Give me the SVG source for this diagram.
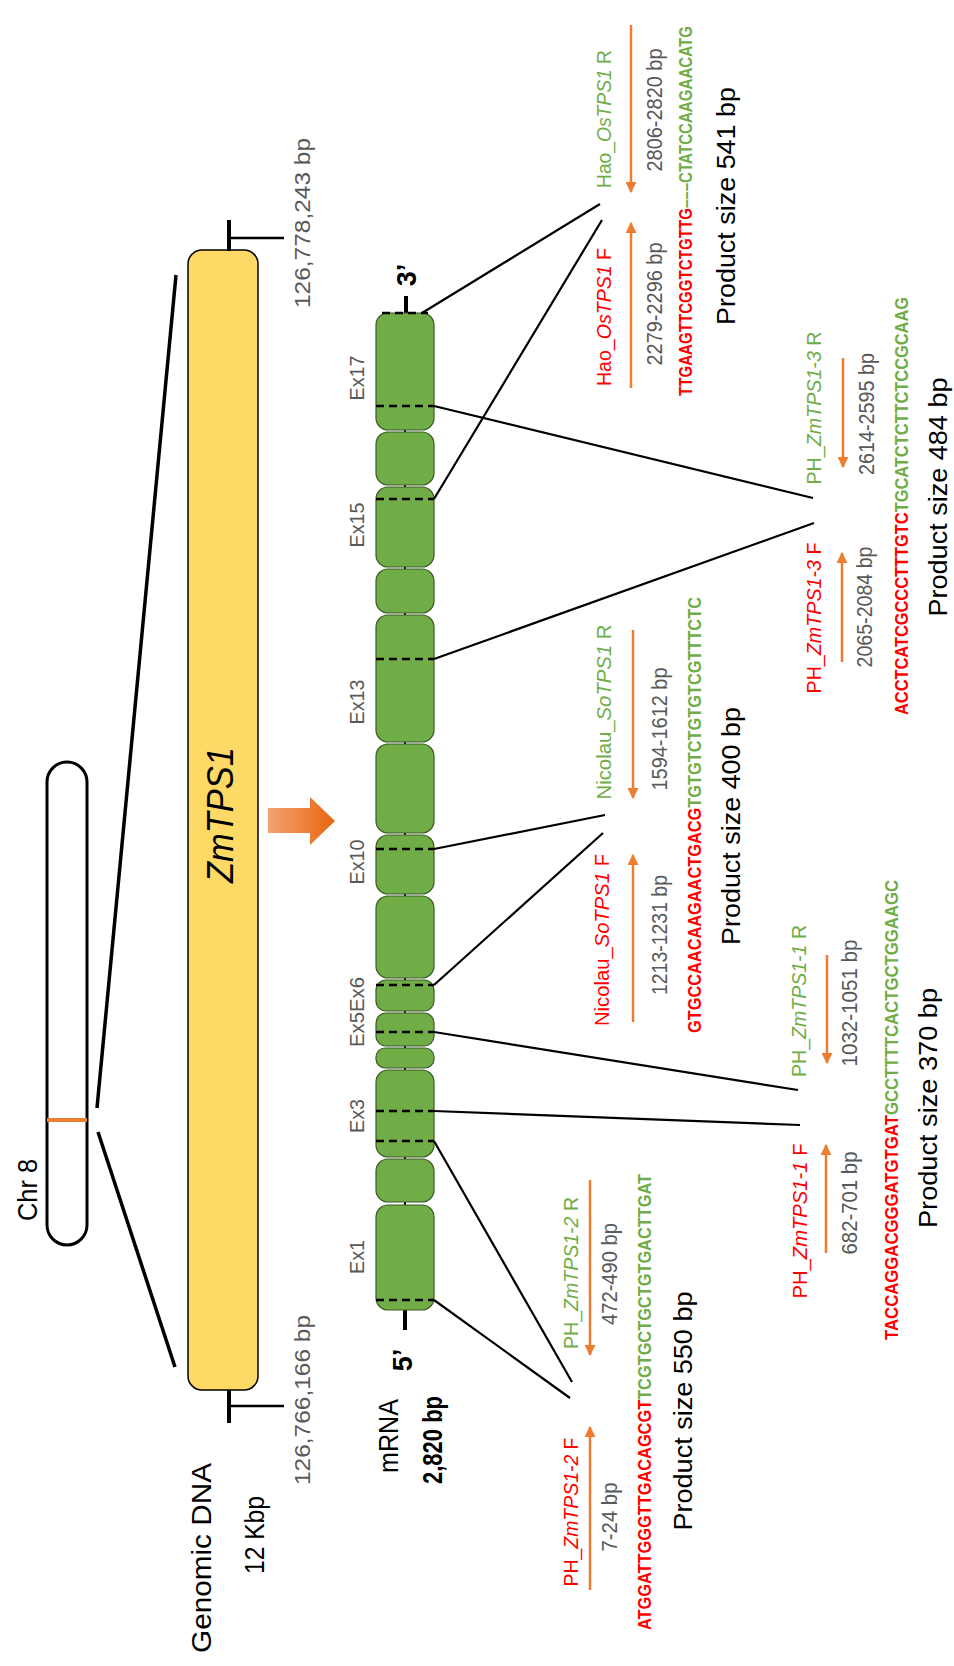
<svg xmlns="http://www.w3.org/2000/svg" width="954" height="1666" viewBox="0 0 954 1666">
<style>
text{font-family:"Liberation Sans",Arial,sans-serif}
.big{font-size:27px;fill:#000}
.gray{font-size:22px;fill:#595959}
.exl{font-size:20px;fill:#595959}
.lab{font-size:20px}
.red{fill:#FF0000}
.grn{fill:#70AD47}
.seq{font-size:18.5px;font-weight:bold}
.prod{font-size:26px;fill:#000}
.it{font-style:italic}
.exon{fill:#70AD47;stroke:#3A5A26;stroke-width:1.2}
.dash{stroke:#000;stroke-width:2.5;stroke-dasharray:8 5}
.con{stroke:#000;stroke-width:2.2;fill:none}
.oar{stroke:#ED7D31;stroke-width:2.5;marker-end:url(#ah)}
</style>
<defs>
<marker id="ah" viewBox="0 0 10 10" refX="9" refY="5" markerWidth="4.4" markerHeight="4.4" markerUnits="strokeWidth" orient="auto"><path d="M0,0L10,5L0,10z" fill="#ED7D31"/></marker>
<linearGradient id="og" x1="0" y1="0" x2="1" y2="0"><stop offset="0" stop-color="#F4A370"/><stop offset="1" stop-color="#E8650F"/></linearGradient>
</defs>
<rect width="954" height="1666" fill="#fff"/>

<g id="chromosome">
<rect x="47" y="762" width="40" height="483" rx="20" fill="none" stroke="#000" stroke-width="3"/>
<line x1="47" y1="1120" x2="87" y2="1120" stroke="#ED7D31" stroke-width="4"/>
<text class="big" font-size="33" text-anchor="middle" transform="translate(37,1190) rotate(-90)" textLength="62" lengthAdjust="spacingAndGlyphs">Chr 8</text>
</g>

<g id="zoom-lines">
<line x1="176" y1="275" x2="97" y2="1108" stroke="#000" stroke-width="3.5"/>
<line x1="98" y1="1132" x2="175" y2="1367" stroke="#000" stroke-width="3.5"/>
</g>

<g id="genomic-dna">
<rect x="188" y="250" width="70" height="1140" rx="14" fill="#FFD966" stroke="#000" stroke-width="1.5"/>
<text class="it" font-size="36" text-anchor="middle" transform="translate(233,815) rotate(-90)" textLength="136" lengthAdjust="spacingAndGlyphs">ZmTPS1</text>
<line x1="229" y1="220" x2="229" y2="251" stroke="#000" stroke-width="4"/>
<line x1="229" y1="238" x2="284" y2="238" stroke="#000" stroke-width="2.5"/>
<line x1="229" y1="1390" x2="229" y2="1423" stroke="#000" stroke-width="4"/>
<line x1="229" y1="1406" x2="284" y2="1406" stroke="#000" stroke-width="2.5"/>
<text class="gray" text-anchor="middle" transform="translate(310,223) rotate(-90)" textLength="170" lengthAdjust="spacingAndGlyphs">126,778,243 bp</text>
<text class="gray" text-anchor="middle" transform="translate(310,1400) rotate(-90)" textLength="170" lengthAdjust="spacingAndGlyphs">126,766,166 bp</text>
<text class="big" font-size="30" text-anchor="middle" transform="translate(211,1558) rotate(-90)" textLength="190" lengthAdjust="spacingAndGlyphs">Genomic DNA</text>
<text class="big" font-size="25" text-anchor="middle" transform="translate(264,1535) rotate(-90)" textLength="78" lengthAdjust="spacingAndGlyphs">12 Kbp</text>
</g>

<g id="transcription-arrow">
<polygon points="268,808 310,808 310,797 335,821 310,845 310,833 268,833" fill="url(#og)"/>
</g>

<g id="mrna">
<line x1="405" y1="296" x2="405" y2="1330" stroke="#000" stroke-width="2"/>
<line x1="406" y1="296" x2="406" y2="313" stroke="#000" stroke-width="4"/>
<line x1="405" y1="1310" x2="405" y2="1330" stroke="#000" stroke-width="4"/>
<rect class="exon" x="376" y="313" width="58" height="117" rx="12"/>
<rect class="exon" x="376" y="432" width="58" height="53" rx="12"/>
<rect class="exon" x="376" y="487" width="58" height="80" rx="12"/>
<rect class="exon" x="376" y="569" width="58" height="44" rx="12"/>
<rect class="exon" x="376" y="615" width="58" height="127" rx="12"/>
<rect class="exon" x="376" y="744" width="58" height="89" rx="12"/>
<rect class="exon" x="376" y="835" width="58" height="59" rx="12"/>
<rect class="exon" x="376" y="896" width="58" height="82" rx="12"/>
<rect class="exon" x="376" y="980" width="58" height="31" rx="10"/>
<rect class="exon" x="376" y="1013" width="58" height="33" rx="10"/>
<rect class="exon" x="376" y="1048" width="58" height="20" rx="9"/>
<rect class="exon" x="376" y="1070" width="58" height="87" rx="12"/>
<rect class="exon" x="376" y="1159" width="58" height="43" rx="12"/>
<rect class="exon" x="376" y="1205" width="58" height="105" rx="12"/>
<line class="dash" x1="382" y1="313" x2="428" y2="313"/>
<line class="dash" x1="376" y1="406" x2="434" y2="406"/>
<line class="dash" x1="376" y1="499" x2="434" y2="499"/>
<line class="dash" x1="376" y1="659" x2="434" y2="659"/>
<line class="dash" x1="376" y1="849" x2="434" y2="849"/>
<line class="dash" x1="376" y1="985" x2="434" y2="985"/>
<line class="dash" x1="376" y1="1032" x2="434" y2="1032"/>
<line class="dash" x1="376" y1="1111" x2="434" y2="1111"/>
<line class="dash" x1="376" y1="1141" x2="434" y2="1141"/>
<line class="dash" x1="376" y1="1300" x2="434" y2="1300"/>
<text class="exl" text-anchor="middle" transform="translate(364,378) rotate(-90)" textLength="45" lengthAdjust="spacingAndGlyphs">Ex17</text>
<text class="exl" text-anchor="middle" transform="translate(364,525) rotate(-90)" textLength="45" lengthAdjust="spacingAndGlyphs">Ex15</text>
<text class="exl" text-anchor="middle" transform="translate(364,702) rotate(-90)" textLength="45" lengthAdjust="spacingAndGlyphs">Ex13</text>
<text class="exl" text-anchor="middle" transform="translate(364,862) rotate(-90)" textLength="45" lengthAdjust="spacingAndGlyphs">Ex10</text>
<text class="exl" text-anchor="middle" transform="translate(364,1012) rotate(-90)" textLength="70" lengthAdjust="spacingAndGlyphs">Ex5Ex6</text>
<text class="exl" text-anchor="middle" transform="translate(364,1116) rotate(-90)" textLength="34" lengthAdjust="spacingAndGlyphs">Ex3</text>
<text class="exl" text-anchor="middle" transform="translate(364,1257) rotate(-90)" textLength="34" lengthAdjust="spacingAndGlyphs">Ex1</text>
<text class="big" font-weight="bold" font-size="24" text-anchor="middle" transform="translate(416,275) rotate(-90)">3’</text>
<text class="big" font-weight="bold" font-size="24" text-anchor="middle" transform="translate(412,1360) rotate(-90)">5’</text>
<text class="big" font-size="29" text-anchor="middle" transform="translate(398,1436) rotate(-90)" textLength="74" lengthAdjust="spacingAndGlyphs">mRNA</text>
<text class="big" font-size="24" font-weight="bold" text-anchor="middle" transform="translate(442,1440) rotate(-90)" textLength="88" lengthAdjust="spacingAndGlyphs">2,820 bp</text>
</g>

<g id="connectors">
<line class="con" x1="422" y1="313" x2="600" y2="204"/>
<line class="con" x1="434" y1="499" x2="602" y2="220"/>
<line class="con" x1="434" y1="406" x2="813" y2="498"/>
<line class="con" x1="434" y1="659" x2="814" y2="523"/>
<line class="con" x1="434" y1="849" x2="605" y2="815"/>
<line class="con" x1="434" y1="985" x2="603" y2="833"/>
<line class="con" x1="434" y1="1032" x2="798" y2="1090"/>
<line class="con" x1="434" y1="1111" x2="800" y2="1125"/>
<line class="con" x1="434" y1="1141" x2="572" y2="1382"/>
<line class="con" x1="434" y1="1300" x2="570" y2="1398"/>
</g>

<g id="primer-hao">
<text class="lab grn" text-anchor="middle" transform="translate(611,119) rotate(-90)" textLength="138" lengthAdjust="spacingAndGlyphs">Hao_<tspan class="it">OsTPS1</tspan> R</text>
<line class="oar" x1="631" y1="25" x2="631" y2="192"/>
<text class="gray" text-anchor="middle" transform="translate(662,110) rotate(-90)" textLength="123" lengthAdjust="spacingAndGlyphs">2806-2820 bp</text>
<text class="lab red" text-anchor="middle" transform="translate(611,317) rotate(-90)" textLength="138" lengthAdjust="spacingAndGlyphs">Hao_<tspan class="it">OsTPS1</tspan> F</text>
<line class="oar" x1="631" y1="388" x2="631" y2="223"/>
<text class="gray" text-anchor="middle" transform="translate(662,304) rotate(-90)" textLength="123" lengthAdjust="spacingAndGlyphs">2279-2296 bp</text>
<text class="seq" font-size="15" transform="translate(692,396) rotate(-90)" textLength="370" lengthAdjust="spacingAndGlyphs"><tspan class="red">TTGAAGTTCGGTCTGTTG</tspan><tspan class="grn">–––CTATCCAAGAACATG</tspan></text>
<text class="prod" text-anchor="middle" transform="translate(735,206) rotate(-90)" textLength="238" lengthAdjust="spacingAndGlyphs">Product size 541 bp</text>
</g>

<g id="primer-zmtps1-3">
<text class="lab grn" text-anchor="middle" transform="translate(821,408) rotate(-90)" textLength="153" lengthAdjust="spacingAndGlyphs">PH_<tspan class="it">ZmTPS1-3</tspan> R</text>
<line class="oar" x1="843" y1="358" x2="843" y2="467"/>
<text class="gray" text-anchor="middle" transform="translate(874,414) rotate(-90)" textLength="122" lengthAdjust="spacingAndGlyphs">2614-2595 bp</text>
<text class="lab red" text-anchor="middle" transform="translate(821,618) rotate(-90)" textLength="151" lengthAdjust="spacingAndGlyphs">PH_<tspan class="it">ZmTPS1-3</tspan> F</text>
<line class="oar" x1="842" y1="662" x2="842" y2="553"/>
<text class="gray" text-anchor="middle" transform="translate(872,607) rotate(-90)" textLength="121" lengthAdjust="spacingAndGlyphs">2065-2084 bp</text>
<text class="seq" transform="translate(908,715) rotate(-90)" textLength="418" lengthAdjust="spacingAndGlyphs"><tspan class="red">ACCTCATCGCCCTTTGTC</tspan><tspan class="grn">TGCATCTCTTCTCCGCAAG</tspan></text>
<text class="prod" text-anchor="middle" transform="translate(947,497) rotate(-90)" textLength="239" lengthAdjust="spacingAndGlyphs">Product size 484 bp</text>
</g>

<g id="primer-nicolau">
<text class="lab grn" text-anchor="middle" transform="translate(611,712) rotate(-90)" textLength="175" lengthAdjust="spacingAndGlyphs">Nicolau_<tspan class="it">SoTPS1</tspan> R</text>
<line class="oar" x1="633" y1="630" x2="633" y2="798"/>
<text class="gray" text-anchor="middle" transform="translate(667,729) rotate(-90)" textLength="123" lengthAdjust="spacingAndGlyphs">1594-1612 bp</text>
<text class="lab red" text-anchor="middle" transform="translate(609,940) rotate(-90)" textLength="172" lengthAdjust="spacingAndGlyphs">Nicolau_<tspan class="it">SoTPS1</tspan> F</text>
<line class="oar" x1="633" y1="1022" x2="633" y2="855"/>
<text class="gray" text-anchor="middle" transform="translate(667,935) rotate(-90)" textLength="120" lengthAdjust="spacingAndGlyphs">1213-1231 bp</text>
<text class="seq" transform="translate(701,1033) rotate(-90)" textLength="436" lengthAdjust="spacingAndGlyphs"><tspan class="red">GTGCCAACAAGAACTGACG</tspan><tspan class="grn">TGTGTCTGTGTCGTTTCTC</tspan></text>
<text class="prod" text-anchor="middle" transform="translate(740,826) rotate(-90)" textLength="238" lengthAdjust="spacingAndGlyphs">Product size 400 bp</text>
</g>

<g id="primer-zmtps1-1">
<text class="lab grn" text-anchor="middle" transform="translate(806,1001) rotate(-90)" textLength="152" lengthAdjust="spacingAndGlyphs">PH_<tspan class="it">ZmTPS1-1</tspan> R</text>
<line class="oar" x1="827" y1="955" x2="827" y2="1063"/>
<text class="gray" text-anchor="middle" transform="translate(857,1003) rotate(-90)" textLength="127" lengthAdjust="spacingAndGlyphs">1032-1051 bp</text>
<text class="lab red" text-anchor="middle" transform="translate(807,1221) rotate(-90)" textLength="155" lengthAdjust="spacingAndGlyphs">PH_<tspan class="it">ZmTPS1-1</tspan> F</text>
<line class="oar" x1="826" y1="1253" x2="826" y2="1145"/>
<text class="gray" text-anchor="middle" transform="translate(857,1203) rotate(-90)" textLength="103" lengthAdjust="spacingAndGlyphs">682-701 bp</text>
<text class="seq" transform="translate(898,1340) rotate(-90)" textLength="460" lengthAdjust="spacingAndGlyphs"><tspan class="red">TACCAGGACGGGATGTGAT</tspan><tspan class="grn">GCCTTTTCACTGCTGGAAGC</tspan></text>
<text class="prod" text-anchor="middle" transform="translate(937,1108) rotate(-90)" textLength="240" lengthAdjust="spacingAndGlyphs">Product size 370 bp</text>
</g>

<g id="primer-zmtps1-2">
<text class="lab grn" text-anchor="middle" transform="translate(578,1273) rotate(-90)" textLength="152" lengthAdjust="spacingAndGlyphs">PH_<tspan class="it">ZmTPS1-2</tspan> R</text>
<line class="oar" x1="590" y1="1180" x2="590" y2="1355"/>
<text class="gray" text-anchor="middle" transform="translate(617,1274) rotate(-90)" textLength="102" lengthAdjust="spacingAndGlyphs">472-490 bp</text>
<text class="lab red" text-anchor="middle" transform="translate(578,1512) rotate(-90)" textLength="149" lengthAdjust="spacingAndGlyphs">PH_<tspan class="it">ZmTPS1-2</tspan> F</text>
<line class="oar" x1="590" y1="1590" x2="590" y2="1427"/>
<text class="gray" text-anchor="middle" transform="translate(617,1517) rotate(-90)" textLength="69" lengthAdjust="spacingAndGlyphs">7-24 bp</text>
<text class="seq" transform="translate(651,1630) rotate(-90)" textLength="456" lengthAdjust="spacingAndGlyphs"><tspan class="red">ATGGATTGGGTTGACAGCGT</tspan><tspan class="grn">TCGTGCTGCTGTGACTTGAT</tspan></text>
<text class="prod" text-anchor="middle" transform="translate(692,1411) rotate(-90)" textLength="239" lengthAdjust="spacingAndGlyphs">Product size 550 bp</text>
</g>
</svg>
